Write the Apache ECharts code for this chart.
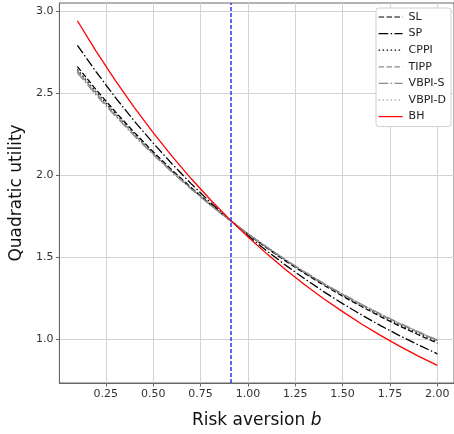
<!DOCTYPE html>
<html>
<head>
<meta charset="utf-8">
<script src="https://cdn.jsdelivr.net/npm/echarts@6/dist/echarts.min.js"></script>
<style>
  html, body { margin: 0; padding: 0; background: #fff; }
  #chart { width: 454px; height: 434px; }
</style>
</head>
<body>
<div id="chart"></div>
<script>
// Risk aversion levels b
const riskAversion = [0.1, 0.2, 0.3, 0.4, 0.5, 0.6, 0.7, 0.8, 0.9, 1.0,
                      1.1, 1.2, 1.3, 1.4, 1.5, 1.6, 1.7, 1.8, 1.9, 2.0];

// Quadratic utility per strategy
const slValues    = [2.660, 2.518, 2.385, 2.260, 2.141, 2.029, 1.923, 1.823, 1.729, 1.639,
                     1.555, 1.475, 1.400, 1.329, 1.261, 1.198, 1.137, 1.080, 1.026, 0.975];
const spValues    = [2.790, 2.627, 2.473, 2.329, 2.194, 2.067, 1.947, 1.835, 1.730, 1.631,
                     1.537, 1.449, 1.367, 1.289, 1.216, 1.147, 1.082, 1.021, 0.964, 0.910];
const cppiValues  = [2.643, 2.504, 2.374, 2.251, 2.134, 2.024, 1.920, 1.821, 1.729, 1.641,
                     1.558, 1.480, 1.405, 1.335, 1.268, 1.206, 1.145, 1.089, 1.035, 0.985];
const tippValues  = [2.635, 2.497, 2.368, 2.246, 2.130, 2.021, 1.918, 1.820, 1.729, 1.641,
                     1.559, 1.481, 1.407, 1.337, 1.271, 1.209, 1.149, 1.093, 1.040, 0.990];
const vbpiSValues = [2.623, 2.486, 2.359, 2.238, 2.124, 2.016, 1.915, 1.818, 1.729, 1.641,
                     1.560, 1.482, 1.409, 1.339, 1.274, 1.212, 1.153, 1.097, 1.045, 0.995];
const vbpiDValues = [2.629, 2.492, 2.363, 2.242, 2.127, 2.019, 1.916, 1.819, 1.729, 1.641,
                     1.560, 1.482, 1.408, 1.338, 1.273, 1.211, 1.151, 1.095, 1.043, 0.993];
const bhValues    = [2.940, 2.752, 2.576, 2.412, 2.258, 2.113, 1.978, 1.852, 1.734, 1.623,
                     1.519, 1.422, 1.331, 1.246, 1.167, 1.092, 1.022, 0.957, 0.896, 0.839];

// Axis tick labels
const xTicks = [0.25, 0.5, 0.75, 1.0, 1.25, 1.5, 1.75, 2.0];
const yTicks = [1.0, 1.5, 2.0, 2.5, 3.0];

// Marked risk aversion level
const markedB = 0.91;

const DASHED = [5.5, 2.4];
const DASHDOT = [9.6, 2.4, 1.5, 2.4];
const DOTTED = [1.5, 2.5];

const seriesDefs = [
  { name: 'SL',     values: slValues,    color: '#000000', type: DASHED,  width: 1.3 },
  { name: 'SP',     values: spValues,    color: '#000000', type: DASHDOT, width: 1.3 },
  { name: 'CPPI',   values: cppiValues,  color: '#000000', type: DOTTED,  width: 1.3 },
  { name: 'TIPP',   values: tippValues,  color: '#8c8c8c', type: DASHED,  width: 1.3 },
  { name: 'VBPI-S', values: vbpiSValues, color: '#8c8c8c', type: DASHDOT, width: 1.3 },
  { name: 'VBPI-D', values: vbpiDValues, color: '#8c8c8c', type: DOTTED,  width: 1.3 },
  { name: 'BH',     values: bhValues,    color: '#ff0000', type: 'solid', width: 1.3 }
];

const series = seriesDefs.map(function (d) {
  return {
    name: d.name,
    type: 'line',
    showSymbol: false,
    symbol: 'circle',
    symbolSize: 0,
    smooth: false,
    color: d.color,
    lineStyle: { color: d.color, type: d.type, width: d.width },
    data: riskAversion.map(function (x, i) { return [x, d.values[i]]; }),
    z: 3
  };
});

series[0].markLine = {
  silent: true,
  symbol: 'none',
  label: { show: false },
  lineStyle: { color: '#3030ff', type: [4, 2], width: 1.5 },
  data: [{ xAxis: markedB }]
};

const chart = echarts.init(document.getElementById('chart'), null, { renderer: 'canvas' });
chart.setOption({
  animation: false,
  backgroundColor: '#ffffff',
  grid: {
    left: 57, right: -3, top: 3, bottom: 42,
    show: true, borderColor: '#666666', borderWidth: 1, backgroundColor: 'transparent'
  },
  legend: {
    orient: 'vertical',
    right: 3, top: 8,
    itemWidth: 24, itemHeight: 10, itemGap: 4.6,
    padding: [3, 5, 4, 2],
    backgroundColor: '#ffffff',
    borderColor: '#d0d0d0', borderWidth: 1, borderRadius: 3,
    itemStyle: { opacity: 0 },
    lineStyle: { width: 1.2 },
    textStyle: { fontFamily: 'DejaVu Sans', fontSize: 11, lineHeight: 12, color: '#222222', padding: [0, 0, 0, 1] },
    data: seriesDefs.map(function (d) { return d.name; })
  },
  xAxis: {
    type: 'value',
    min: 0.005, max: 2.088,
    name: 'Risk aversion {i|b}',
    nameLocation: 'middle',
    nameGap: 29,
    nameTextStyle: {
      fontFamily: 'DejaVu Sans', fontSize: 17, color: '#111111',
      rich: { i: { fontFamily: 'DejaVu Sans', fontStyle: 'italic', fontSize: 17, color: '#111111' } }
    },
    axisLine: { show: true, lineStyle: { color: '#666666', width: 1 } },
    axisTick: { show: true, length: 3.5, lineStyle: { color: '#666666' }, customValues: xTicks },
    axisLabel: {
      customValues: xTicks,
      fontFamily: 'DejaVu Sans', fontSize: 11, color: '#333333', margin: 6,
      formatter: function (v) { return v.toFixed(2); }
    },
    splitLine: { show: true, lineStyle: { color: '#d3d3d3', width: 1 } }
  },
  yAxis: {
    type: 'value',
    min: 0.732, max: 3.048,
    name: 'Quadratic utility',
    nameLocation: 'middle',
    nameGap: 33,
    nameTextStyle: { fontFamily: 'DejaVu Sans', fontSize: 17, color: '#111111' },
    axisLine: { show: true, lineStyle: { color: '#666666', width: 1 } },
    axisTick: { show: true, length: 3.5, lineStyle: { color: '#666666' }, customValues: yTicks },
    axisLabel: {
      customValues: yTicks,
      fontFamily: 'DejaVu Sans', fontSize: 11, color: '#333333', margin: 6,
      formatter: function (v) { return v.toFixed(1); }
    },
    splitLine: { show: true, lineStyle: { color: '#d3d3d3', width: 1 } }
  },
  series: series
});
</script>
</body>
</html>
